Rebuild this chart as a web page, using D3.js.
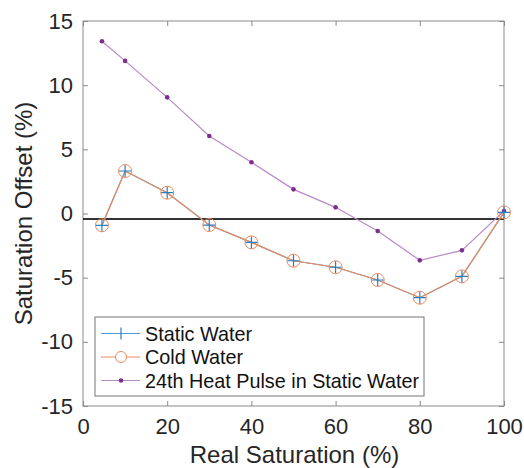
<!DOCTYPE html>
<html><head><meta charset="utf-8">
<script src="https://cdn.jsdelivr.net/npm/d3@7"></script>
<style>body{margin:0;background:#fff}svg{display:block}text{font-family:"Liberation Sans",Arial,sans-serif}</style>
</head><body><svg id="c" width="524" height="468"></svg>
<script>
const realSat = [4.5, 10, 20, 30, 40, 50, 60, 70, 80, 90, 100];
const staticWater = [-0.92, 3.31, 1.62, -0.9, -2.25, -3.68, -4.19, -5.18, -6.56, -4.9, 0.09];
const coldWater = [-0.92, 3.31, 1.62, -0.9, -2.25, -3.68, -4.19, -5.18, -6.56, -4.9, 0.09];
const heatPulse = [13.42, 11.89, 9.05, 6.04, 3.99, 1.88, 0.48, -1.36, -3.65, -2.87, 0.2];
const refLine = -0.43;
const xTicks = [0, 20, 40, 60, 80, 100];
const yTicks = [-15, -10, -5, 0, 5, 10, 15];
const seriesNames = ["Static Water", "Cold Water", "24th Heat Pulse in Static Water"];

const svg = d3.select("#c");
const L = 83, R = 504, T = 21, B = 406;
const x = d3.scaleLinear().domain([0, 100]).range([L, R]);
const y = d3.scaleLinear().domain([-15, 15]).range([B, T]);
const axisCol = "#8a8a8a", textCol = "#262626";
const fmt = d => String(d);

// box
svg.append("rect").attr("x", L).attr("y", T).attr("width", R - L).attr("height", B - T)
  .attr("fill", "none").attr("stroke", axisCol).attr("stroke-width", 1);

// axes
const gx = svg.append("g").attr("transform", `translate(0,${B})`)
  .call(d3.axisBottom(x).tickValues(xTicks).tickSizeInner(-5).tickSizeOuter(0).tickPadding(12).tickFormat(fmt));
const gxt = svg.append("g").attr("transform", `translate(0,${T})`)
  .call(d3.axisTop(x).tickValues(xTicks).tickSizeInner(-5).tickSizeOuter(0).tickFormat(""));
const gy = svg.append("g").attr("transform", `translate(${L},0)`)
  .call(d3.axisLeft(y).tickValues(yTicks).tickSizeInner(-5).tickSizeOuter(0).tickPadding(10).tickFormat(fmt));
const gyr = svg.append("g").attr("transform", `translate(${R},0)`)
  .call(d3.axisRight(y).tickValues(yTicks).tickSizeInner(-5).tickSizeOuter(0).tickFormat(""));
[gx, gxt, gy, gyr].forEach(g => {
  g.select(".domain").remove();
  g.selectAll(".tick line").attr("stroke", axisCol);
  g.selectAll("text").attr("fill", textCol).style("font-size", "22px");
});

// axis titles
svg.append("text").attr("x", (L + R) / 2 + 1).attr("y", 463).attr("text-anchor", "middle")
  .attr("fill", textCol).style("font-size", "24px").text("Real Saturation (%)");
svg.append("text").attr("transform", `translate(32,${(T + B) / 2}) rotate(-90)`)
  .attr("text-anchor", "middle").attr("fill", textCol).style("font-size", "24px").text("Saturation Offset (%)");

// reference line
svg.append("line").attr("x1", L).attr("x2", R).attr("y1", y(refLine)).attr("y2", y(refLine))
  .attr("stroke", "#333").attr("stroke-width", 2);

const line = d3.line().x((d, i) => x(realSat[i])).y(d => y(d));
const blue = "#4a9fd8", orange = "#ee8a5c", purple = "#7E2F8E";

// heat pulse
svg.append("path").datum(heatPulse).attr("d", line).attr("fill", "none")
  .attr("stroke", "#b88ac6").attr("stroke-width", 1.2);
svg.selectAll(".hp").data(heatPulse).enter().append("circle")
  .attr("cx", (d, i) => x(realSat[i])).attr("cy", d => y(d)).attr("r", 2.3).attr("fill", purple);

// static water
svg.append("path").datum(staticWater).attr("d", line).attr("fill", "none")
  .attr("stroke", blue).attr("stroke-width", 1.2);
// cold water
svg.append("path").datum(coldWater).attr("d", line).attr("fill", "none")
  .attr("stroke", orange).attr("stroke-width", 1.2);
svg.selectAll(".cw").data(coldWater).enter().append("circle")
  .attr("cx", (d, i) => x(realSat[i])).attr("cy", d => y(d)).attr("r", 6.5)
  .attr("fill", "none").attr("stroke", orange).attr("stroke-width", 1);
svg.selectAll(".sw").data(staticWater).enter().append("path")
  .attr("d", (d, i) => { const cx = x(realSat[i]), cy = y(d); return `M${cx-6},${cy}H${cx+6}M${cx},${cy-6}V${cy+6}`; })
  .attr("stroke", "#2a7fc0").attr("stroke-width", 1.2);

// legend
const lg = svg.append("g");
lg.append("rect").attr("x", 95).attr("y", 317).attr("width", 329).attr("height", 79)
  .attr("fill", "#fff").attr("stroke", "#777").attr("stroke-width", 1);
const ly = [333.5, 357, 380.5];
const lx1 = 101, lx2 = 140, lm = 121;
seriesNames.forEach((name, i) => {
  const col = [blue, orange, "#b88ac6"][i];
  lg.append("line").attr("x1", lx1).attr("x2", lx2).attr("y1", ly[i]).attr("y2", ly[i])
    .attr("stroke", col).attr("stroke-width", 1.2);
  if (i === 0) lg.append("path").attr("d", `M${lm},${ly[i]-6}V${ly[i]+6}`).attr("stroke", "#2a7fc0").attr("stroke-width", 1.2);
  if (i === 1) lg.append("circle").attr("cx", lm).attr("cy", ly[i]).attr("r", 5.5).attr("fill", "#fff").attr("stroke", orange);
  if (i === 2) lg.append("circle").attr("cx", lm).attr("cy", ly[i]).attr("r", 2.3).attr("fill", purple);
  lg.append("text").attr("x", 145).attr("y", ly[i]).attr("dy", "0.36em").attr("fill", "#111")
    .style("font-size", "19.8px").text(name);
});
</script></body></html>
